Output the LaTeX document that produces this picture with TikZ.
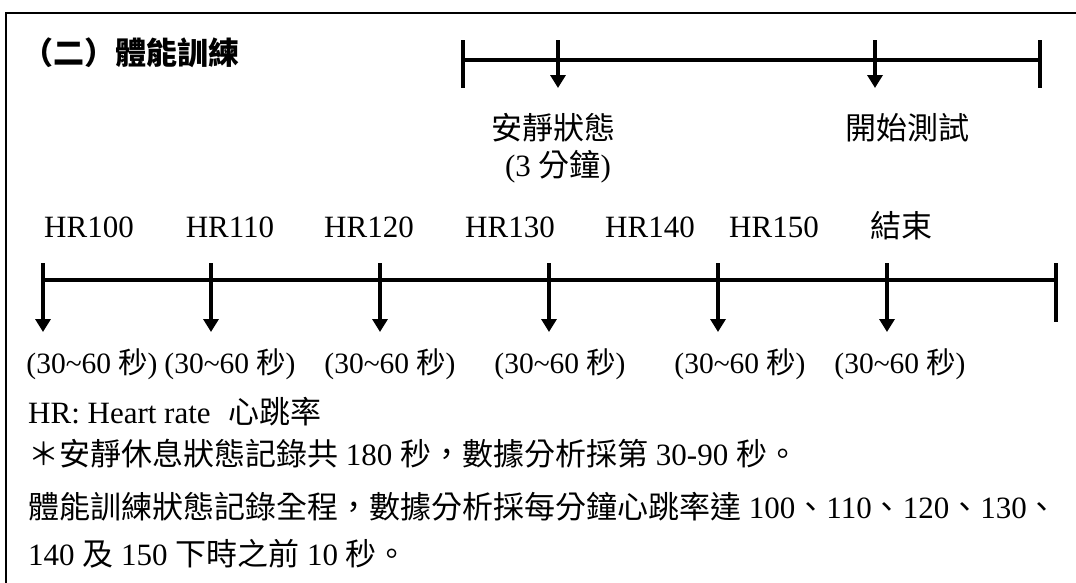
\documentclass[tikz,border=0pt]{standalone}
\usepackage{fontspec}
\setmainfont{Liberation Serif}
\newfontfamily\cjk{Noto Sans CJK TC}
\usetikzlibrary{arrows.meta}
\newcommand\cj[1]{{\cjk #1}}
\newcommand\tld{\textasciitilde}
\newcommand\durtext{(30\tld60\hspace{7pt}\cj{秒})}
\begin{document}
\begin{tikzpicture}[x=1pt,y=-1pt,
  every node/.style={inner sep=0pt, font=\fontsize{31}{37}\selectfont},
  lbl/.style={anchor=base},
  durlbl/.style={anchor=base, font=\fontsize{29.5}{36}\selectfont},
  note/.style={anchor=base west},
  frame/.style={line width=2.5pt},
  axistop/.style={line width=4.5pt},
  axisbot/.style={line width=3.5pt},
  tickmark/.style={line width=4.5pt},
  arr/.style={line width=4pt, -{Triangle[width=15pt,length=13pt]}}]
\useasboundingbox (0,0) rectangle (1076,582);
\clip (0,0) rectangle (1076,582);
% frame
\coordinate (fr) at (1100,13);
\coordinate (ftl) at (6,13);
\coordinate (fb) at (6,600);
\draw[frame] (fr) -- (ftl) -- (fb);
% title
\node[note] (title) at (22,64) {\cjk\bfseries （二）體能訓練};
% top timeline
\coordinate (ta0) at (463,40); \coordinate (tb0) at (463,88);
\coordinate (ta1) at (558,40); \coordinate (tb1) at (558,88);
\coordinate (ta2) at (875,40); \coordinate (tb2) at (875,88);
\coordinate (ta3) at (1040,40); \coordinate (tb3) at (1040,88);
\coordinate (tl) at (463,60); \coordinate (tr) at (1040,60);
\draw[axistop] (tl) -- (tr);
\draw[tickmark] (ta0) -- (tb0);
\draw[tickmark] (ta3) -- (tb3);
\draw[arr] (ta1) -- (tb1);
\draw[arr] (ta2) -- (tb2);
\node (rest) at (553,128) {\cj{安靜狀態}};
\node (restdur) at (558,167) {(3 \cj{分鐘})};
\node (start) at (907,128) {\cj{開始測試}};
% HR labels
\node[lbl] (hr100) at (89,237) {HR100};
\node[lbl] (hr110) at (230,237) {HR110};
\node[lbl] (hr120) at (369,237) {HR120};
\node[lbl] (hr130) at (510,237) {HR130};
\node[lbl] (hr140) at (650,237) {HR140};
\node[lbl] (hr150) at (774,237) {HR150};
\node[lbl] (end) at (901,237) {\cj{結束}};
% bottom timeline
\coordinate (bl) at (43,280); \coordinate (br) at (1056,280);
\draw[axisbot] (bl) -- (br);
\foreach \i/\x in {0/43,1/211,2/380,3/549,4/718,5/887}{
  \coordinate (ba\i) at (\x,263);
  \coordinate (bb\i) at (\x,332);
  \draw[arr] (ba\i) -- (bb\i);
}
\coordinate (bae) at (1056,263); \coordinate (bbe) at (1056,322);
\draw[tickmark] (bae) -- (bbe);
% duration labels
\node[durlbl] (d1) at (92,373) {\durtext};
\node[durlbl] (d2) at (230,373) {\durtext};
\node[durlbl] (d3) at (390,373) {\durtext};
\node[durlbl] (d4) at (560,373) {\durtext};
\node[durlbl] (d5) at (740,373) {\durtext};
\node[durlbl] (d6) at (900,373) {\durtext};
% notes
\node[note] (n1) at (28,423) {HR: Heart rate\hspace{18pt}\cj{心跳率}};
\node[note] (n2) at (28,465) {\cj{＊安靜休息狀態記錄共} 180 \cj{秒，數據分析採第} 30-90 \cj{秒。}};
\node[note] (n3) at (28,518) {\cj{體能訓練狀態記錄全程，數據分析採每分鐘心跳率達} 100\cj{、}110\cj{、}120\cj{、}130\cj{、}};
\node[note] (n4) at (28,565) {140 \cj{及} 150 \cj{下時之前} 10 \cj{秒。}};
\end{tikzpicture}
\end{document}
